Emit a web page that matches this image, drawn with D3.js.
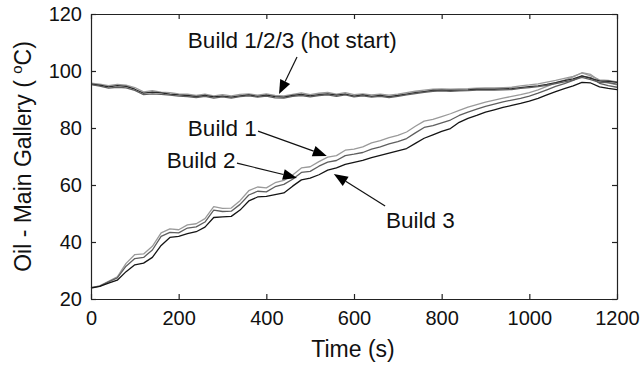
<!DOCTYPE html>
<html>
<head>
<meta charset="utf-8">
<script src="https://cdn.jsdelivr.net/npm/d3@7"></script>
<style>
  html, body { margin: 0; padding: 0; background: #fff; }
  svg { display: block; font-family: "Liberation Sans", Arial, sans-serif; }
</style>
</head>
<body>
<svg id="chart" width="644" height="367"></svg>
<script>
// Time axis (s), sampled every 20 s
const time = [0,20,40,60,80,100,120,140,160,180,200,220,240,260,280,300,320,340,360,380,
  400,420,440,460,480,500,520,540,560,580,600,620,640,660,680,700,720,740,760,780,
  800,820,840,860,880,900,920,940,960,980,1000,1020,1040,1060,1080,1100,1120,1140,1160,1180,1200];

// Cold-start oil temperatures (°C)
const build1 = [24.0,24.6,26.2,27.8,32.5,35.6,35.8,38.5,43.2,44.6,44.3,46.0,46.4,48.2,52.4,51.8,51.9,54.5,58.0,59.3,
  59.0,60.8,61.6,63.5,66.0,66.4,68.2,69.8,70.3,72.2,72.6,73.4,74.8,75.6,76.6,77.4,78.6,80.6,82.4,83.0,
  84.0,85.0,86.2,87.3,88.2,89.1,89.8,90.5,91.1,91.7,92.4,93.4,94.6,95.8,96.8,97.9,99.4,98.8,96.6,95.8,95.1];
const build2 = [24.0,24.5,26.0,27.4,31.5,34.2,34.6,37.2,42.0,43.4,43.2,44.9,45.3,47.0,51.2,50.7,50.8,53.2,56.5,57.8,
  57.6,59.4,60.2,62.0,64.4,64.8,66.6,68.0,68.6,70.3,70.8,71.4,72.6,73.4,74.4,75.2,76.3,78.3,80.2,80.8,
  81.8,82.8,84.4,85.6,86.6,87.6,88.4,89.2,89.8,90.4,91.2,92.2,93.4,94.6,95.6,96.7,98.2,97.7,95.7,94.9,94.3];
const build3 = [23.8,24.4,25.6,26.6,29.6,32.0,32.6,34.6,38.8,41.6,42.0,42.9,43.6,45.2,48.6,48.8,49.0,51.2,54.4,55.8,
  56.0,56.6,57.2,59.6,61.8,62.4,63.6,65.2,66.0,67.2,67.9,68.6,69.6,70.4,71.2,72.0,72.8,74.6,76.4,77.6,
  78.8,79.8,82.0,83.4,84.4,85.6,86.4,87.2,87.9,88.6,89.4,90.4,91.6,92.8,93.8,94.8,96.0,95.8,94.4,93.9,93.5];

// Hot-start oil temperatures (°C)
const hot1 = [95.7,95.4,94.9,95.3,95.0,94.2,92.7,93.1,92.6,92.4,92.0,91.9,91.4,91.9,91.3,91.7,91.3,91.8,92.0,91.5,
  92.0,91.4,91.3,91.8,92.3,91.7,92.2,92.5,91.9,92.4,91.7,92.0,91.6,91.9,91.5,91.9,92.4,92.9,93.3,93.6,
  93.7,93.6,93.7,93.8,94.0,94.1,94.1,94.2,94.3,94.8,95.1,95.5,96.1,96.7,97.4,98.1,99.3,98.3,96.9,96.7,96.2];
const hot2 = [95.4,95.0,94.4,94.9,94.6,93.6,92.2,92.6,92.3,91.9,91.6,91.4,91.0,91.4,90.9,91.2,90.8,91.3,91.6,91.1,
  91.5,91.0,90.8,91.4,91.8,91.3,91.7,92.0,91.5,91.9,91.2,91.6,91.1,91.4,91.0,91.4,91.9,92.4,92.8,93.2,
  93.3,93.2,93.3,93.4,93.6,93.6,93.6,93.7,93.8,94.2,94.5,94.8,95.3,95.9,96.6,97.2,98.3,97.4,96.5,96.4,96.0];
const hot3 = [95.2,94.7,94.0,94.3,94.1,93.2,91.7,92.0,91.8,91.5,91.2,91.0,90.7,91.1,90.5,90.9,90.5,91.0,91.3,90.8,
  91.2,90.6,90.5,91.1,91.4,90.9,91.4,91.6,91.1,91.6,90.9,91.3,90.8,91.1,90.7,91.1,91.6,92.1,92.5,92.9,
  93.0,92.9,93.0,93.1,93.3,93.3,93.3,93.4,93.5,93.9,94.2,94.5,95.0,95.6,96.2,96.8,97.8,97.0,96.0,95.9,95.4];

const xTicks = [0,200,400,600,800,1000,1200];
const yTicks = [20,40,60,80,100,120];

// Series drawing order and stroke colours
const seriesNames = ["build1","build2","build3","hot1","hot2","hot3"];
const seriesValues = [build1, build2, build3, hot1, hot2, hot3];
const seriesColors = ["#9a9a9a","#5e5e5e","#141414","#9a9a9a","#2a2a2a","#5e5e5e"];

// Callouts: label anchor and arrow tail/tip, in data units (s, °C)
const labelText = ["Build 1/2/3 (hot start)","Build 1","Build 2","Build 3"];
const labelT    = [221, 221, 173, 673];
const labelY    = [108.1, 77.2, 66.0, 44.9];
const arrowFromT = [470, 381, 333, 671];
const arrowFromY = [104.9, 78.9, 67.7, 52.6];
const arrowToT   = [429, 538, 470, 554];
const arrowToY   = [91.9, 70.2, 62.5, 63.9];

const svg = d3.select("#chart");
const m = { left: 91, right: 27, top: 14, bottom: 68 };
const W = 644, H = 367;
const x = d3.scaleLinear().domain([0, 1200]).range([m.left, W - m.right]);
const y = d3.scaleLinear().domain([20, 120]).range([H - m.bottom, m.top]);

const line = d3.line().x((d, i) => x(time[i])).y(d => y(d));

// Curves
const g = svg.append("g");
seriesValues.forEach((vals, k) => {
  g.append("path")
    .datum(vals)
    .attr("class", seriesNames[k])
    .attr("fill", "none")
    .attr("stroke", seriesColors[k])
    .attr("stroke-width", 1.3)
    .attr("stroke-linejoin", "round")
    .attr("d", line);
});

// Axes with inward ticks on all four sides
const tickStyle = sel => {
  sel.select(".domain").attr("stroke", "#222").attr("stroke-width", 1.2);
  sel.selectAll(".tick line").attr("stroke", "#222").attr("stroke-width", 1.2);
  sel.selectAll(".tick text").attr("fill", "#111").attr("font-size", 20)
     .attr("font-family", "'Liberation Sans', Arial, sans-serif");
};
const fmt = d3.format("d");
svg.append("g").attr("transform", `translate(0,${y(20)})`)
  .call(d3.axisBottom(x).tickValues(xTicks).tickFormat(fmt).tickSize(-5).tickPadding(12).tickSizeOuter(0))
  .call(tickStyle);
svg.append("g").attr("transform", `translate(0,${y(120)})`)
  .call(d3.axisTop(x).tickValues(xTicks).tickSize(-5).tickFormat("").tickSizeOuter(0))
  .call(tickStyle);
svg.append("g").attr("transform", `translate(${x(0)},0)`)
  .call(d3.axisLeft(y).tickValues(yTicks).tickFormat(fmt).tickSize(-5).tickPadding(9).tickSizeOuter(0))
  .call(tickStyle);
svg.append("g").attr("transform", `translate(${x(1200)},0)`)
  .call(d3.axisRight(y).tickValues(yTicks).tickSize(-5).tickFormat("").tickSizeOuter(0))
  .call(tickStyle);

// Axis titles
svg.append("text")
  .attr("x", (x(0) + x(1200)) / 2 - 1).attr("y", 357)
  .attr("text-anchor", "middle").attr("font-size", 23).attr("fill", "#111")
  .text("Time (s)");

const yt = svg.append("text")
  .attr("transform", `translate(31,${(y(20) + y(120)) / 2}) rotate(-90)`)
  .attr("text-anchor", "middle").attr("font-size", 23).attr("fill", "#111");
yt.append("tspan").text("Oil - Main Gallery ( ");
yt.append("tspan").attr("font-size", 15).attr("dy", -9).text("o");
yt.append("tspan").attr("dy", 9).text("C)");

// Callout labels and arrows
labelText.forEach((t, i) => {
  svg.append("text")
    .attr("x", x(labelT[i])).attr("y", y(labelY[i]))
    .attr("font-size", 22.5).attr("fill", "#111")
    .text(t);

  const x0 = x(arrowFromT[i]), y0 = y(arrowFromY[i]);
  const x1 = x(arrowToT[i]),   y1 = y(arrowToY[i]);
  const ang = Math.atan2(y1 - y0, x1 - x0);
  const headLen = 14, headHalf = 5.5;
  const bx = x1 - headLen * Math.cos(ang), by = y1 - headLen * Math.sin(ang);
  svg.append("line")
    .attr("x1", x0).attr("y1", y0).attr("x2", bx).attr("y2", by)
    .attr("stroke", "#111").attr("stroke-width", 1.2);
  const px = -Math.sin(ang), py = Math.cos(ang);
  svg.append("path")
    .attr("d", `M${x1},${y1}L${bx + px * headHalf},${by + py * headHalf}L${bx - px * headHalf},${by - py * headHalf}Z`)
    .attr("fill", "#000");
});
</script>
</body>
</html>
